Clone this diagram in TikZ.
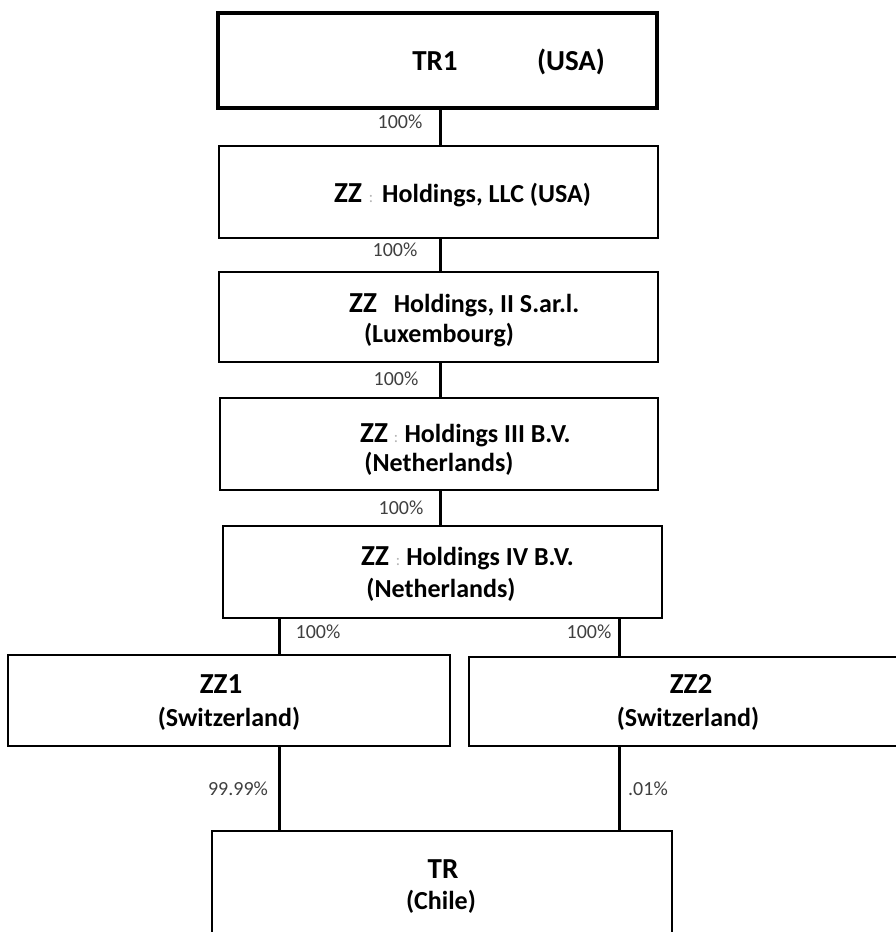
\documentclass[tikz,border=0pt]{standalone}
\usepackage{fontspec}
\setmainfont{Carlito}
\begin{document}
\begin{tikzpicture}[x=1pt,y=-1pt,
  box/.style={draw=black, line width=2.5pt, fill=white, inner sep=0pt},
  conn/.style={line width=3pt},
  pct/.style={font=\fontsize{20}{20}\selectfont, text=black!75, inner sep=0pt, anchor=base},
  zz/.style={font=\bfseries\fontsize{29}{29}\selectfont, inner sep=0pt, anchor=base},
  ent/.style={font=\bfseries\fontsize{26}{26}\selectfont, inner sep=0pt, anchor=base},
  faint/.style={font=\fontsize{16}{16}\selectfont, text=black!30, inner sep=0pt, anchor=base}]
\useasboundingbox (0,0) rectangle (896,932);
\clip (0,0) rectangle (896,932);
\fill[white] (0,0) rectangle (896,932);
% boxes
\node[box, line width=4pt, minimum width=439pt, minimum height=95pt] (tr1) at (437.5,60.5) {};
\node[box, minimum width=439pt, minimum height=92pt] (llc) at (438.5,192) {};
\node[box, minimum width=439pt, minimum height=90pt] (lux) at (438.5,317) {};
\node[box, minimum width=438pt, minimum height=92pt] (nl3) at (439,444) {};
\node[box, minimum width=439pt, minimum height=92pt] (nl4) at (442.5,572) {};
\node[box, minimum width=442pt, minimum height=91pt] (zz1) at (229,700.5) {};
\node[box, minimum width=443pt, minimum height=89pt] (zz2) at (690.5,701.5) {};
\node[box, minimum width=460pt, minimum height=109pt] (tr) at (442,885.5) {};
% connector columns
\coordinate (spine) at (440,0);
\coordinate (lcol) at (279,0);
\coordinate (rcol) at (619,0);
\draw[conn] (spine |- tr1.south) -- (spine |- llc.north);
\draw[conn] (spine |- llc.south) -- (spine |- lux.north);
\draw[conn] (spine |- lux.south) -- (spine |- nl3.north);
\draw[conn] (spine |- nl3.south) -- (spine |- nl4.north);
\draw[conn] (lcol |- nl4.south) -- (lcol |- zz1.north);
\draw[conn] (rcol |- nl4.south) -- (rcol |- zz2.north);
\draw[conn] (lcol |- zz1.south) -- (lcol |- tr.north);
\draw[conn] (rcol |- zz2.south) -- (rcol |- tr.north);
% percentages
\node[pct] (p1) at (400,128.5) {100\%};
\node[pct] (p2) at (395,256.5) {100\%};
\node[pct] (p3) at (396,385.5) {100\%};
\node[pct] (p4) at (401,514.5) {100\%};
\node[pct] (p5) at (318,638.5) {100\%};
\node[pct] (p6) at (589,638.5) {100\%};
\node[pct] (p7) at (238,795.5) {99.99\%};
\node[pct] (p8) at (648,795.5) {.01\%};
% texts
\node[zz] (t1a) at (435,70) {TR1};
\node[zz] (t1b) at (571,70) {(USA)};
\node[zz] (t2a) at (348,202.5) {ZZ};
\node[faint] (t2c) at (371,202.5) {:};
\node[ent] (t2b) at (486.5,202.5) {Holdings, LLC (USA)};
\node[zz] (t3a) at (363,312) {ZZ};
\node[ent] (t3b) at (486.5,312) {Holdings, II S.ar.l.};
\node[ent] (t3c) at (439,342) {(Luxembourg)};
\node[zz] (t4a) at (374,442) {ZZ};
\node[faint] (t4c) at (396,442) {:};
\node[ent] (t4b) at (487.5,442) {Holdings III B.V.};
\node[ent] (t4d) at (439,471) {(Netherlands)};
\node[zz] (t5a) at (375,565) {ZZ};
\node[faint] (t5c) at (398,565) {:};
\node[ent] (t5b) at (490,565) {Holdings IV B.V.};
\node[ent] (t5d) at (441,597.5) {(Netherlands)};
\node[zz] (t6a) at (221,693) {ZZ1};
\node[ent] (t6b) at (229,726.5) {(Switzerland)};
\node[zz] (t7a) at (691,693) {ZZ2};
\node[ent] (t7b) at (688,726.5) {(Switzerland)};
\node[zz] (t8a) at (443,878) {TR};
\node[ent] (t8b) at (441,909.5) {(Chile)};
\end{tikzpicture}
\end{document}
